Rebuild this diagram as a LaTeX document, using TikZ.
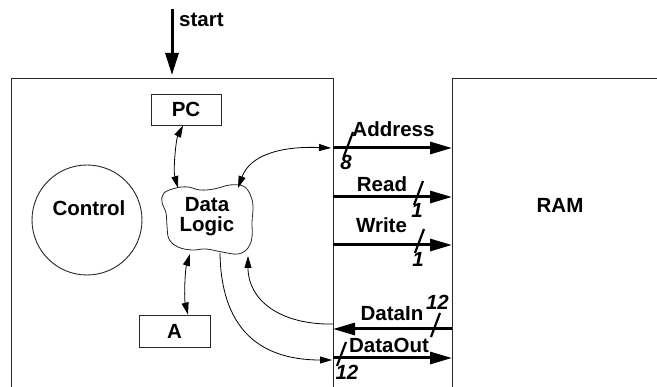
\documentclass[tikz,border=0pt]{standalone}
\usepackage{fontspec}
\setmainfont{Liberation Sans}
\usetikzlibrary{arrows.meta}

\begin{document}
\begin{tikzpicture}[x=1pt,y=-1pt,
  font=\fontsize{20.5}{20}\selectfont\bfseries,
  frame/.style={draw=black!85, line width=0.9pt},
  regbox/.style={frame, rectangle, inner sep=0pt},
  bus/.style={line width=3pt, -{Triangle[length=22pt,width=12pt]}},
  link/.style={line width=0.8pt,
    {Triangle[length=12pt,width=7pt]}-{Triangle[length=12pt,width=7pt]}},
  linkto/.style={line width=0.8pt, -{Triangle[length=12pt,width=7pt]}},
  slashmark/.style={line width=2.2pt},
  lbl/.style={inner sep=0pt, anchor=base},
  num/.style={inner sep=0pt, anchor=base,
    font=\fontsize{20.5}{20}\selectfont\bfseries\itshape},
]
\useasboundingbox (0,0) rectangle (657,387);

% CPU outline (open at the bottom) and RAM outline
\draw[frame] (11,387) -- (11,78) -- (333,78) -- (333,387);
\draw[frame] (452,387) -- (452,78) -- (657,78);
\node[lbl, anchor=center] (ram) at (560,205) {RAM};

% start signal
\coordinate (startTop) at (172,9);
\coordinate (startEnd) at (172,75);
\draw[bus, -{Triangle[length=22pt,width=13pt]}] (startTop) -- (startEnd);
\node[lbl, anchor=base west] (startlbl) at (179,27) {start};

% registers and control
\node[regbox, minimum width=70pt, minimum height=31pt] (pc) at (186,109.5) {PC};
\node[regbox, minimum width=71pt, minimum height=32pt] (abox) at (174.5,331) {A};
\node[frame, circle, minimum size=110pt, inner sep=0pt] (ctrl) at (87,220) {};
\node[lbl, anchor=center] (ctrltxt) at (89,208) {Control};

% data logic blob
\draw[frame, line width=0.8pt] plot[smooth cycle, tension=0.65] coordinates {
  (164,193) (176,188) (188,187) (200,190) (214,189) (230,185) (243,186)
  (250,194) (253,206) (252,222) (252,237) (248,248) (238,254) (222,252)
  (206,249) (192,250) (178,247) (169,239) (167,226) (166,213) (162,202)};
\node[align=center, inner sep=0pt] (logic) at (207,217) {Data\\Logic};
\coordinate (lgN1) at (178,188);
\coordinate (lgN2) at (238,188);
\coordinate (lgS1) at (190,254);
\coordinate (lgS2) at (220,253);
\coordinate (lgS3) at (248,256);

% bus end points on the CPU and RAM edges
\coordinate (addrL) at (333,148);  \coordinate (addrR) at (452,148);
\coordinate (readL) at (333,197);  \coordinate (readR) at (452,197);
\coordinate (writeL) at (333,245); \coordinate (writeR) at (452,245);
\coordinate (dinL) at (333,329);   \coordinate (dinR) at (452,329);
\coordinate (doutL) at (333,358);  \coordinate (doutR) at (452,358);
\coordinate (addrIn) at (331,148);
\coordinate (dinOut) at (333,324);
\coordinate (doutIn) at (332,360);

% buses
\draw[bus] (addrL) -- (addrR);
\draw[bus] (readL) -- (readR);
\draw[bus] (writeL) -- (writeR);
\draw[bus] (dinR) -- (dinL);
\draw[bus] (doutL) -- (doutR);

\node[lbl] (addrlbl) at (393.5,137) {Address};
\node[lbl] (readlbl) at (382,192) {Read};
\node[lbl] (writelbl) at (381.5,233) {Write};
\node[lbl] (dinlbl) at (392,321) {DataIn};
\node[lbl] (doutlbl) at (389,353) {DataOut};

% bus width marks
\draw[slashmark] (348,148) ++(-4,8) -- ++(9,-24);
\draw[slashmark] (418,197) ++(-4,8) -- ++(9,-24);
\draw[slashmark] (419,245) ++(-4,8) -- ++(9,-24);
\draw[slashmark] (435,329) ++(-4,8) -- ++(9,-24);
\draw[slashmark] (341,358) ++(-4,8) -- ++(9,-24);
\node[num] (w8) at (346,170) {8};
\node[num] (w1a) at (417,218) {1};
\node[num] (w1b) at (418,267) {1};
\node[num] (w12a) at (437.5,310) {12};
\node[num] (w12b) at (347,380) {12};

% internal connections
\draw[link] ([xshift=-3pt]pc.south) .. controls +(-7,14) and +(-5,-18) .. (lgN1);
\draw[link] (lgN2) .. controls +(12,-33) and +(-50,-2) .. (addrIn);
\draw[link] (lgS1) .. controls +(-5,16) and +(-4,-16) .. ([xshift=13.5pt]abox.north);
\draw[linkto] (dinOut) .. controls +(-53,1) and +(0,44) .. (lgS3);
\draw[linkto] (lgS2) .. controls +(1,72) and +(-76,0) .. (doutIn);
\end{tikzpicture}
\end{document}
